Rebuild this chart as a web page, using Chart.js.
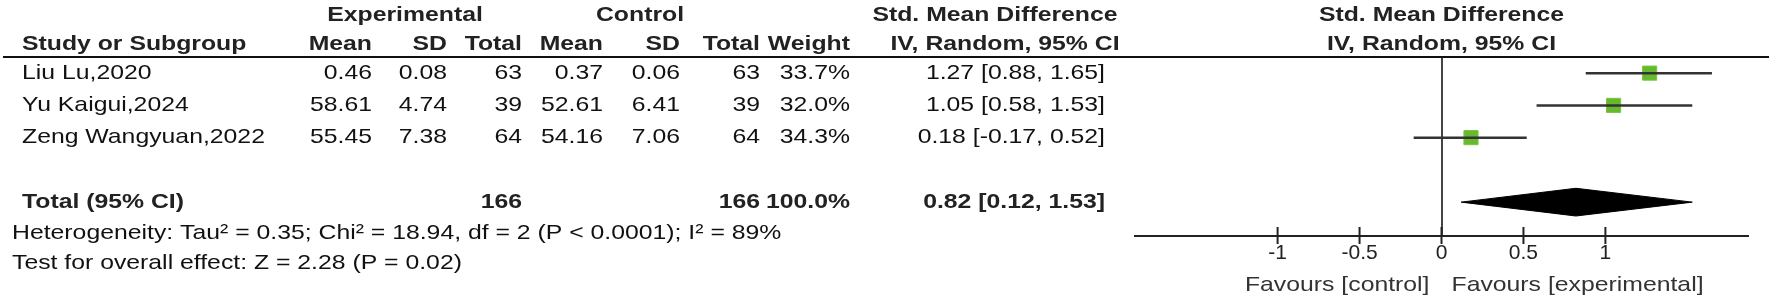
<!DOCTYPE html>
<html>
<head>
<meta charset="utf-8">
<script src="https://cdn.jsdelivr.net/npm/chart.js@4.4.1/dist/chart.umd.min.js"></script>
<style>
  body { margin: 0; background: #fff; }
  #wrap { width: 1772px; height: 305px; }
</style>
</head>
<body>
<div id="wrap"><canvas id="forest" width="1772" height="305"></canvas></div>
<script>
// study rows
const studies = ['Liu Lu,2020', 'Yu Kaigui,2024', 'Zeng Wangyuan,2022'];
const expMean = [0.46, 58.61, 55.45];
const expSD = [0.08, 4.74, 7.38];
const expN = [63, 39, 64];
const ctlMean = [0.37, 52.61, 54.16];
const ctlSD = [0.06, 6.41, 7.06];
const ctlN = [63, 39, 64];
const weight = [33.7, 32.0, 34.3];
const smd = [1.27, 1.05, 0.18];
const ciLow = [0.88, 0.58, -0.17];
const ciHigh = [1.65, 1.53, 0.52];

// pooled result
const totalExpN = 166;
const totalCtlN = 166;
const totalWeight = 100.0;
const pooled = 0.82;
const pooledLow = 0.12;
const pooledHigh = 1.53;

const xTicks = [-1, -0.5, 0, 0.5, 1];
const hetText = 'Heterogeneity: Tau\u00B2 = 0.35; Chi\u00B2 = 18.94, df = 2 (P < 0.0001); I\u00B2 = 89%';
const effectText = 'Test for overall effect: Z = 2.28 (P = 0.02)';

const FONT = '"Liberation Sans", Arial, sans-serif';
const SX = 1.18;   // the original image is a bit stretched sideways
const totalRow = studies.length + 2;

function txt(ctx, s, x, y, align, bold, color) {
  ctx.save();
  ctx.translate(x, y);
  ctx.scale(SX, 1);
  ctx.font = (bold ? 'bold ' : '') + '21px ' + FONT;
  ctx.textAlign = align;
  ctx.textBaseline = 'middle';
  ctx.fillStyle = color || '#111';
  ctx.fillText(s, 0, 0);
  ctx.restore();
}

const ci = i => smd[i].toFixed(2) + ' [' + ciLow[i].toFixed(2) + ', ' + ciHigh[i].toFixed(2) + ']';

const tablePlugin = {
  id: 'table',
  afterDraw(chart) {
    const ctx = chart.ctx;
    const xs = chart.scales.x, ys = chart.scales.y;
    const Y = v => ys.getPixelForValue(v);
    const hc = '#222';

    // header rows
    txt(ctx, 'Experimental', 405, Y(-0.8), 'center', true, hc);
    txt(ctx, 'Control', 640, Y(-0.8), 'center', true, hc);
    txt(ctx, 'Std. Mean Difference', 995, Y(-0.8), 'center', true, hc);
    txt(ctx, 'Std. Mean Difference', xs.getPixelForValue(0), Y(-0.8), 'center', true, hc);
    const h2 = Y(0.1);
    txt(ctx, 'Study or Subgroup', 22, h2, 'left', true, hc);
    txt(ctx, 'Mean', 372, h2, 'right', true, hc);
    txt(ctx, 'SD', 447, h2, 'right', true, hc);
    txt(ctx, 'Total', 522, h2, 'right', true, hc);
    txt(ctx, 'Mean', 603, h2, 'right', true, hc);
    txt(ctx, 'SD', 680, h2, 'right', true, hc);
    txt(ctx, 'Total', 760, h2, 'right', true, hc);
    txt(ctx, 'Weight', 850, h2, 'right', true, hc);
    txt(ctx, 'IV, Random, 95% CI', 1005, h2, 'center', true, hc);
    txt(ctx, 'IV, Random, 95% CI', xs.getPixelForValue(0), h2, 'center', true, hc);

    // header rule
    ctx.save();
    ctx.strokeStyle = '#111';
    ctx.lineWidth = 2;
    ctx.beginPath();
    ctx.moveTo(3, Y(0.5));
    ctx.lineTo(1769, Y(0.5));
    ctx.stroke();
    ctx.restore();

    // study rows
    studies.forEach((s, i) => {
      const y = Y(i + 1);
      txt(ctx, s, 22, y, 'left');
      txt(ctx, expMean[i].toFixed(2), 372, y, 'right');
      txt(ctx, expSD[i].toFixed(2), 447, y, 'right');
      txt(ctx, String(expN[i]), 522, y, 'right');
      txt(ctx, ctlMean[i].toFixed(2), 603, y, 'right');
      txt(ctx, ctlSD[i].toFixed(2), 680, y, 'right');
      txt(ctx, String(ctlN[i]), 760, y, 'right');
      txt(ctx, weight[i].toFixed(1) + '%', 850, y, 'right');
      txt(ctx, ci(i), 1105, y, 'right');
    });

    // total row
    const yt = Y(totalRow);
    txt(ctx, 'Total (95% CI)', 22, yt, 'left', true, hc);
    txt(ctx, String(totalExpN), 522, yt, 'right', true, hc);
    txt(ctx, String(totalCtlN), 760, yt, 'right', true, hc);
    txt(ctx, totalWeight.toFixed(1) + '%', 850, yt, 'right', true, hc);
    txt(ctx, pooled.toFixed(2) + ' [' + pooledLow.toFixed(2) + ', ' + pooledHigh.toFixed(2) + ']', 1105, yt, 'right', true, hc);
    txt(ctx, hetText, 12, Y(totalRow + 0.95), 'left');
    txt(ctx, effectText, 12, Y(totalRow + 1.88), 'left');

    // tick marks crossing the axis
    const ay = xs.top;
    ctx.save();
    ctx.strokeStyle = '#222';
    ctx.lineWidth = 2;
    xTicks.forEach(v => {
      const px = xs.getPixelForValue(v);
      ctx.beginPath();
      ctx.moveTo(px, ay - 9);
      ctx.lineTo(px, ay + 8);
      ctx.stroke();
    });
    ctx.restore();

    // favours labels
    const x0 = xs.getPixelForValue(0);
    txt(ctx, 'Favours [control]', x0 - 12, ay + 49, 'right', false, '#333');
    txt(ctx, 'Favours [experimental]', x0 + 10, ay + 49, 'left', false, '#333');
  }
};

const dh = 0.43; // diamond half height in row units
const datasets = [];
studies.forEach((s, i) => {
  datasets.push({
    label: s + ' CI',
    data: [{x: ciLow[i], y: i + 1}, {x: ciHigh[i], y: i + 1}],
    showLine: true,
    borderColor: '#333',
    borderWidth: 2.5,
    pointRadius: 0
  });
});
datasets.push({
  label: 'estimates',
  data: studies.map((s, i) => ({x: smd[i], y: i + 1})),
  pointStyle: 'rect',
  pointRadius: 10,
  backgroundColor: '#66b82c',
  borderColor: '#78c63e',
  borderWidth: 1
});
datasets.push({
  label: 'pooled',
  data: [
    {x: pooledLow, y: totalRow},
    {x: pooled, y: totalRow - dh},
    {x: pooledHigh, y: totalRow},
    {x: pooled, y: totalRow + dh},
    {x: pooledLow, y: totalRow}
  ],
  showLine: true,
  fill: 'shape',
  backgroundColor: '#000',
  borderColor: '#000',
  borderWidth: 1,
  pointRadius: 0
});

new Chart(document.getElementById('forest'), {
  type: 'scatter',
  data: { datasets: datasets },
  options: {
    responsive: false,
    animation: false,
    devicePixelRatio: 1,
    layout: { padding: { left: 1135, right: 24, top: 57, bottom: 0 } },
    plugins: { legend: { display: false }, tooltip: { enabled: false } },
    scales: {
      x: {
        type: 'linear',
        min: -1.87,
        max: 1.87,
        afterBuildTicks: s => { s.ticks = xTicks.map(v => ({ value: v })); },
        afterFit: s => { s.height = 69; },
        ticks: {
          callback: v => String(v),
          autoSkip: false,
          maxRotation: 0,
          padding: 5,
          color: '#222',
          font: { family: FONT, size: 21 }
        },
        grid: {
          drawTicks: false,
          lineWidth: 2,
          color: c => (c.tick && c.tick.value === 0) ? '#444' : 'rgba(0,0,0,0)'
        },
        border: { display: true, color: '#222', width: 2 }
      },
      y: {
        display: false,
        reverse: true,
        min: 0.5,
        max: 6.05
      }
    }
  },
  plugins: [tablePlugin]
});
</script>
</body>
</html>
